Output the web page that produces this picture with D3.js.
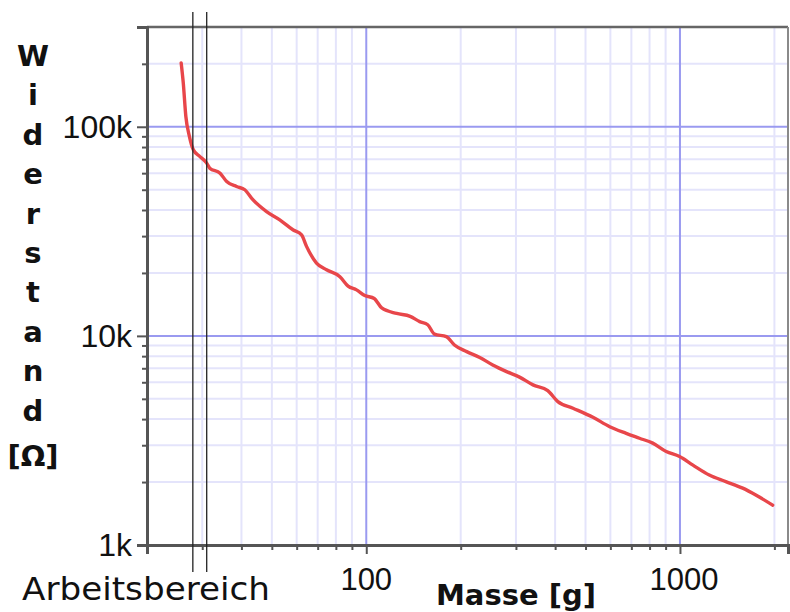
<!DOCTYPE html>
<html>
<head>
<meta charset="utf-8">
<script src="https://cdn.jsdelivr.net/npm/d3@7"></script>
<style>
  html, body { margin: 0; padding: 0; background: #fff; }
  svg { display: block; }
</style>
</head>
<body>
<svg id="chart" width="790" height="612"></svg>
<script>
// ---- data (mass in g, resistance in ohm) ----
const masse = [25.7, 26.1, 26.6, 27.3, 28.1, 29.5, 31, 31.7, 34.2, 35.9, 38.6, 41, 43.5, 48.1, 53, 58.5, 62.2, 64.5, 69.4, 74.7, 82.4, 87.5, 93.1, 98.9, 106, 112, 125, 138, 148, 157, 165, 180, 191, 209, 230, 253, 280, 308, 340, 379, 408, 456, 528, 597, 674, 743, 819, 904, 997, 1100, 1240, 1400, 1585, 1750, 1975];
const widerstand = [202000, 162000, 112000, 90000, 77600, 72000, 67000, 63400, 60000, 54700, 51800, 50000, 44800, 39300, 35900, 32100, 30400, 26800, 22300, 20700, 19200, 17300, 16600, 15600, 15100, 13600, 12800, 12400, 11700, 11300, 10200, 9920, 9050, 8410, 7890, 7260, 6750, 6350, 5830, 5470, 4850, 4510, 4080, 3680, 3420, 3240, 3070, 2800, 2650, 2410, 2160, 2010, 1870, 1730, 1550];
const xDomain = [20, 2210];
const yDomain = [1000, 300000];
const xMajor = [100, 1000];
const xMajorLabels = ["100", "1000"];
const xMinor = [30, 40, 50, 60, 70, 80, 90, 200, 300, 400, 500, 600, 700, 800, 900, 2000];
const yMajor = [1000, 10000, 100000];
const yMajorLabels = ["1k", "10k", "100k"];
const yMinor = [2000, 3000, 4000, 5000, 6000, 7000, 8000, 9000, 20000, 30000, 40000, 50000, 60000, 70000, 80000, 90000, 200000, 300000];
const arbeitsbereich = [28, 31];
const yTitleLines = ["W", "i", "d", "e", "r", "s", "t", "a", "n", "d", "[Ω]"];

// ---- layout ----
const L = 147, R = 788, T = 27, B = 545;
const svg = d3.select("#chart");
const x = d3.scaleLog().domain(xDomain).range([L, R]);
const y = d3.scaleLog().domain(yDomain).range([B, T]);

// minor grid
const g = svg.append("g");
g.selectAll(".vmin").data(xMinor).join("line")
  .attr("x1", d => x(d)).attr("x2", d => x(d)).attr("y1", T).attr("y2", B)
  .attr("stroke", "#e4e4fb").attr("stroke-width", 2);
g.selectAll(".hmin").data(yMinor).join("line")
  .attr("x1", L).attr("x2", R).attr("y1", d => y(d)).attr("y2", d => y(d))
  .attr("stroke", "#e4e4fb").attr("stroke-width", 2);
// major grid
g.selectAll(".vmaj").data(xMajor).join("line")
  .attr("x1", d => x(d)).attr("x2", d => x(d)).attr("y1", T).attr("y2", B)
  .attr("stroke", "#9a9af0").attr("stroke-width", 2);
g.selectAll(".hmaj").data(yMajor).join("line")
  .attr("x1", L).attr("x2", R).attr("y1", d => y(d)).attr("y2", d => y(d))
  .attr("stroke", "#9a9af0").attr("stroke-width", 2);

// frame top/right
svg.append("line").attr("x1", L).attr("x2", R).attr("y1", T).attr("y2", T)
  .attr("stroke", "#666").attr("stroke-width", 2.5);
svg.append("line").attr("x1", R).attr("x2", R).attr("y1", T).attr("y2", B)
  .attr("stroke", "#8a8a8a").attr("stroke-width", 2);

// axes
const yAxis = d3.axisLeft(y).tickValues(yMinor).tickSize(5).tickFormat("");
const yAxisMaj = d3.axisLeft(y).tickValues(yMajor).tickSize(10).tickFormat("");
const xAxis = d3.axisBottom(x).tickValues(xMinor).tickSize(5).tickFormat("");
const xAxisMaj = d3.axisBottom(x).tickValues(xMajor).tickSize(9).tickFormat("");
[yAxis, yAxisMaj].forEach(a => {
  const ga = svg.append("g").attr("transform", `translate(${L},0)`).call(a);
  ga.select(".domain").attr("stroke", "#555").attr("stroke-width", 3);
  ga.selectAll(".tick line").attr("stroke", "#555").attr("stroke-width", 2);
});
[xAxis, xAxisMaj].forEach(a => {
  const ga = svg.append("g").attr("transform", `translate(0,${B})`).call(a);
  ga.select(".domain").attr("stroke", "#555").attr("stroke-width", 3);
  ga.selectAll(".tick line").attr("stroke", "#555").attr("stroke-width", 2);
});

// tick labels
svg.selectAll(".ylab").data(yMajor).join("text")
  .attr("x", 132).attr("y", d => y(d) + 11)
  .attr("text-anchor", "end")
  .attr("font-family", "Liberation Sans, Arial, sans-serif").attr("font-size", 32)
  .attr("fill", "#111")
  .text((d, i) => yMajorLabels[i]);
svg.selectAll(".xlab").data(xMajor).join("text")
  .attr("x", (d, i) => x(d) + i * 4).attr("y", 590)
  .attr("text-anchor", "middle")
  .attr("font-family", "Liberation Sans, Arial, sans-serif").attr("font-size", 31)
  .attr("fill", "#111")
  .text((d, i) => xMajorLabels[i]);

// curve
const line = d3.line().x(d => x(d[0])).y(d => y(d[1])).curve(d3.curveMonotoneX);
svg.append("path").datum(masse.map((m, i) => [m, widerstand[i]]))
  .attr("d", line).attr("fill", "none")
  .attr("stroke", "#e8464a").attr("stroke-width", 3.4)
  .attr("stroke-linejoin", "round").attr("stroke-linecap", "round");

// Arbeitsbereich lines
svg.selectAll(".ab").data(arbeitsbereich).join("line")
  .attr("x1", d => x(d)).attr("x2", d => x(d)).attr("y1", 12).attr("y2", 572)
  .attr("stroke", "#222").attr("stroke-width", 1.3);

// titles
svg.append("text").attr("x", 22).attr("y", 600)
  .attr("font-family", "DejaVu Sans, sans-serif").attr("font-size", 32)
  .attr("textLength", 248).attr("lengthAdjust", "spacingAndGlyphs")
  .attr("fill", "#111").text("Arbeitsbereich");
svg.append("text").attr("x", 516).attr("y", 605)
  .attr("text-anchor", "middle")
  .attr("font-family", "DejaVu Sans, sans-serif").attr("font-weight", "bold").attr("font-size", 29)
  .attr("fill", "#111").text("Masse [g]");
const yt = svg.append("text")
  .attr("font-family", "DejaVu Sans, sans-serif").attr("font-weight", "bold").attr("font-size", 29)
  .attr("fill", "#111").attr("text-anchor", "middle");
yTitleLines.forEach((s, i) => {
  yt.append("tspan").attr("x", 33).attr("y", 66 + i * 39.4 + (i === yTitleLines.length - 1 ? 6 : 0)).text(s);
});
</script>
</body>
</html>
